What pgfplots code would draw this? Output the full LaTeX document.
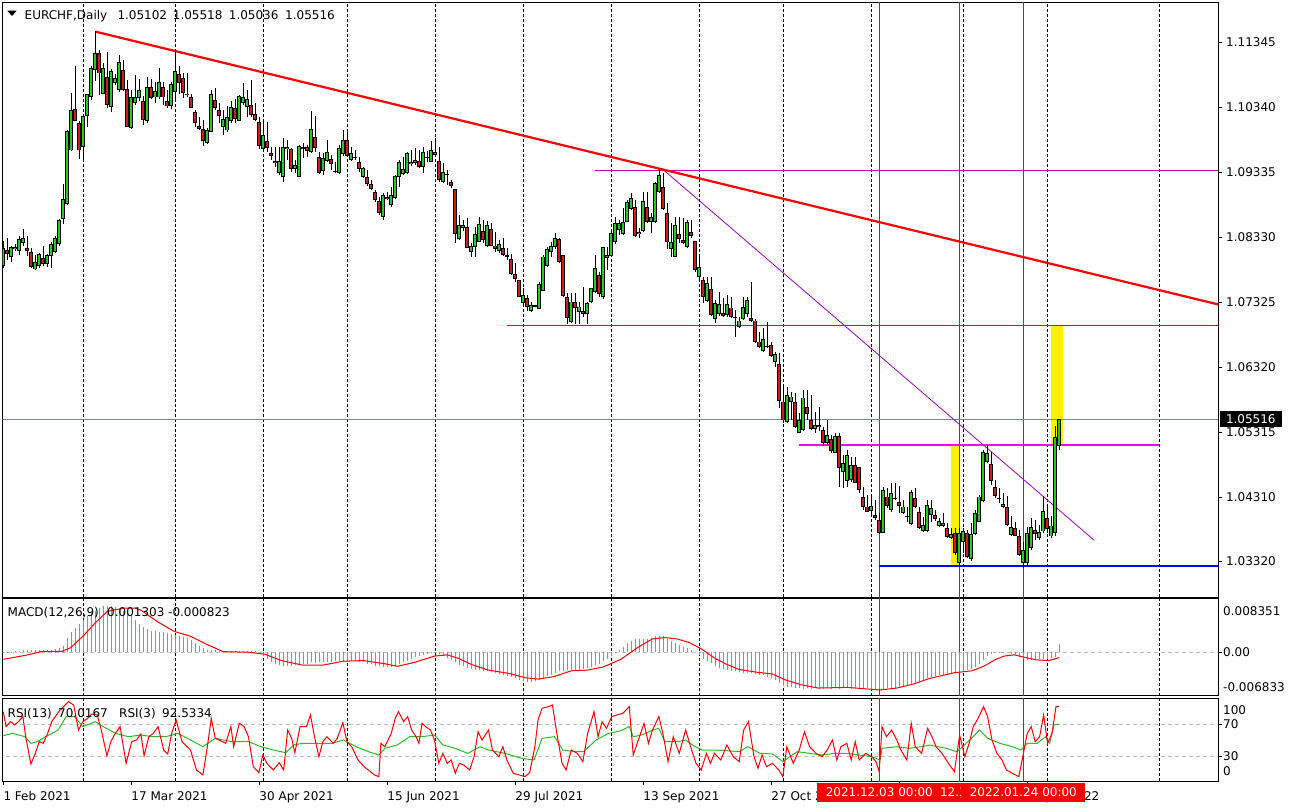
\documentclass[border=0pt]{standalone}
\usepackage{fontspec}
\setmainfont{DejaVu Sans}
\usepackage{pgfplots}
\usepackage{pgfplotstable}
\pgfplotsset{compat=1.18}
\definecolor{bull}{RGB}{40,200,40}
\definecolor{bear}{RGB}{205,30,30}
\definecolor{histc}{RGB}{60,205,60}
\definecolor{rsig}{RGB}{40,190,40}
\definecolor{mag}{RGB}{255,0,255}
\definecolor{magthin}{RGB}{204,0,153}
\definecolor{purp}{RGB}{153,0,204}
\definecolor{curgray}{RGB}{119,136,153}
\definecolor{lvl}{RGB}{192,192,192}
\newcommand\fs{\fontsize{12}{14}\selectfont}

\pgfplotstableread{
k O H L C
0 1.0789 1.0827 1.0785 1.0816
1 1.0813 1.0831 1.0798 1.0807
2 1.0802 1.0820 1.0794 1.0818
3 1.0815 1.0823 1.0811 1.0818
4 1.0811 1.0835 1.0806 1.0830
5 1.0824 1.0845 1.0819 1.0831
6 1.0816 1.0834 1.0804 1.0811
7 1.0810 1.0816 1.0785 1.0787
8 1.0783 1.0806 1.0782 1.0794
9 1.0788 1.0808 1.0785 1.0807
10 1.0800 1.0819 1.0789 1.0791
11 1.0791 1.0807 1.0787 1.0805
12 1.0804 1.0825 1.0785 1.0823
13 1.0810 1.0835 1.0808 1.0831
14 1.0822 1.0861 1.0820 1.0859
15 1.0861 1.0915 1.0853 1.0892
16 1.0884 1.0999 1.0883 1.0997
17 1.0967 1.1056 1.0966 1.1030
18 1.1031 1.1098 1.1012 1.1013
19 1.1009 1.1012 1.0954 1.0967
20 1.0973 1.1022 1.0952 1.1020
21 1.1021 1.1055 1.1003 1.1054
22 1.1050 1.1098 1.1045 1.1094
23 1.1091 1.1152 1.1075 1.1117
24 1.1117 1.1123 1.1053 1.1086
25 1.1055 1.1102 1.1054 1.1094
26 1.1080 1.1119 1.1032 1.1038
27 1.1034 1.1093 1.1027 1.1090
28 1.1072 1.1085 1.1068 1.1079
29 1.1061 1.1114 1.1058 1.1104
30 1.1092 1.1107 1.1059 1.1061
31 1.1062 1.1076 1.1004 1.1004
32 1.1002 1.1061 1.1000 1.1050
33 1.1041 1.1084 1.1037 1.1049
34 1.1048 1.1077 1.1044 1.1061
35 1.1044 1.1051 1.1006 1.1014
36 1.1013 1.1081 1.1009 1.1065
37 1.1065 1.1077 1.1046 1.1048
38 1.1049 1.1073 1.1040 1.1059
39 1.1049 1.1094 1.1046 1.1073
40 1.1065 1.1073 1.1037 1.1049
41 1.1044 1.1060 1.1033 1.1035
42 1.1036 1.1073 1.1031 1.1069
43 1.1057 1.1120 1.1042 1.1090
44 1.1085 1.1098 1.1055 1.1072
45 1.1079 1.1087 1.1048 1.1056
46 1.1055 1.1087 1.1050 1.1052
47 1.1049 1.1054 1.1032 1.1033
48 1.1026 1.1030 1.1004 1.1010
49 1.1005 1.1018 1.0999 1.1000
50 1.1000 1.1014 1.0974 1.0982
51 1.0979 1.1001 1.0977 1.0999
52 1.0996 1.1060 1.0995 1.1054
53 1.1045 1.1063 1.1030 1.1033
54 1.1030 1.1040 1.1009 1.1021
55 1.1004 1.1030 1.0991 1.1016
56 1.0998 1.1035 1.0996 1.1018
57 1.1013 1.1044 1.1009 1.1034
58 1.1032 1.1046 1.1009 1.1016
59 1.1013 1.1053 1.1013 1.1051
60 1.1040 1.1071 1.1037 1.1049
61 1.1034 1.1060 1.1019 1.1047
62 1.1037 1.1076 1.1019 1.1022
63 1.1023 1.1040 1.1012 1.1014
64 1.1011 1.1019 1.0970 1.0974
65 1.0970 1.1012 1.0968 1.0991
66 1.09817 1.10115 1.09652 1.09714
67 1.09626 1.09719 1.09523 1.09590
68 1.09508 1.09719 1.09410 1.09472
69 1.09327 1.09719 1.09291 1.09508
70 1.09255 1.09858 1.09188 1.09729
71 1.09688 1.09832 1.09523 1.09719
72 1.09688 1.09703 1.09343 1.09389
73 1.09379 1.09523 1.09317 1.09441
74 1.09265 1.09755 1.09255 1.09739
75 1.09698 1.09780 1.09549 1.09719
76 1.09719 1.09755 1.09575 1.09667
77 1.09652 1.10280 1.09636 1.09997
78 1.09873 1.10203 1.09652 1.09703
79 1.09575 1.09652 1.09307 1.09327
80 1.09358 1.09626 1.09291 1.09549
81 1.09513 1.09832 1.09497 1.09642
82 1.09533 1.09600 1.09369 1.09456
83 1.09353 1.09497 1.09327 1.09343
84 1.09317 1.09755 1.09307 1.09703
85 1.09611 1.09987 1.09585 1.09827
86 1.09827 1.09997 1.09564 1.09585
87 1.09523 1.09729 1.09513 1.09626
88 1.09564 1.09678 1.09523 1.09549
89 1.09487 1.09575 1.09343 1.09379
90 1.09255 1.09420 1.09240 1.09394
91 1.09265 1.09369 1.09121 1.09147
92 1.09147 1.09214 1.09060 1.09080
93 1.09023 1.09060 1.08880 1.08905
94 1.08890 1.08956 1.08674 1.08699
95 1.08648 1.09008 1.08596 1.08982
96 1.08956 1.09034 1.08905 1.08915
97 1.08823 1.09111 1.08802 1.08982
98 1.08931 1.09291 1.08915 1.09276
99 1.09255 1.09523 1.09111 1.09487
100 1.09302 1.09575 1.09291 1.09379
101 1.09317 1.09652 1.09307 1.09626
102 1.09456 1.09678 1.09430 1.09487
103 1.09472 1.09703 1.09446 1.09523
104 1.09508 1.09678 1.09394 1.09410
105 1.09420 1.09729 1.09327 1.09641
106 1.09554 1.09667 1.09497 1.09564
107 1.09497 1.09822 1.09487 1.09678
108 1.09605 1.09858 1.09575 1.09647
109 1.09508 1.09729 1.09188 1.09214
110 1.09188 1.09472 1.09173 1.09333
111 1.09286 1.09369 1.09137 1.09307
112 1.09178 1.09214 1.09085 1.09126
113 1.09075 1.09075 1.08236 1.08374
114 1.08297 1.08673 1.08287 1.08514
115 1.08478 1.08596 1.08426 1.08514
116 1.08483 1.08622 1.08158 1.08169
117 1.08107 1.08236 1.08030 1.08194
118 1.08184 1.08493 1.08030 1.08380
119 1.08262 1.08637 1.08251 1.08534
120 1.08426 1.08596 1.08236 1.08287
121 1.08200 1.08586 1.08184 1.08514
122 1.08457 1.08545 1.08194 1.08200
123 1.08200 1.08405 1.08096 1.08148
124 1.08117 1.08287 1.08081 1.08225
125 1.08164 1.08313 1.08045 1.08060
126 1.08055 1.08158 1.07978 1.08030
127 1.07988 1.08071 1.07747 1.07757
128 1.07762 1.07927 1.07633 1.07690
129 1.07669 1.07669 1.07401 1.07411
130 1.07319 1.07540 1.07278 1.07432
131 1.07386 1.07437 1.07195 1.07247
132 1.07190 1.07334 1.07180 1.07283
133 1.07257 1.07283 1.07247 1.07267
134 1.07226 1.07633 1.07216 1.07607
135 1.07504 1.08055 1.07499 1.08030
136 1.07891 1.08184 1.07875 1.08143
137 1.08096 1.08262 1.08030 1.08194
138 1.08184 1.08390 1.08143 1.08313
139 1.08297 1.08313 1.07927 1.07953
140 1.08055 1.08055 1.07411 1.07427
141 1.07401 1.07463 1.06989 1.07087
142 1.07025 1.07463 1.07000 1.07334
143 1.07324 1.07463 1.06989 1.07242
144 1.07180 1.07334 1.06989 1.07257
145 1.07190 1.07566 1.07102 1.07138
146 1.07138 1.07334 1.06989 1.07308
147 1.07324 1.07551 1.07308 1.07540
148 1.07489 1.08055 1.07463 1.07850
149 1.07747 1.07798 1.07411 1.07447
150 1.07401 1.08184 1.07370 1.08174
151 1.08014 1.08184 1.07824 1.08055
152 1.08045 1.08442 1.08030 1.08390
153 1.08262 1.08637 1.08225 1.08545
154 1.08442 1.08596 1.08364 1.08545
155 1.08380 1.08776 1.08364 1.08570
156 1.08570 1.08905 1.08565 1.08879
157 1.08761 1.09008 1.08750 1.08931
158 1.08792 1.08905 1.08339 1.08354
159 1.08379 1.08466 1.08312 1.08415
160 1.08425 1.09033 1.08415 1.08894
161 1.08801 1.09033 1.08544 1.08569
162 1.08569 1.08698 1.08389 1.08647
163 1.08569 1.09187 1.08554 1.09162
164 1.09022 1.09367 1.09007 1.09290
165 1.09100 1.09316 1.08750 1.08765
166 1.08698 1.08853 1.08142 1.08260
167 1.08147 1.08544 1.08029 1.08260
168 1.08029 1.08647 1.08018 1.08518
169 1.08379 1.08647 1.08235 1.08301
170 1.08286 1.08621 1.08224 1.08245
171 1.08173 1.08595 1.08157 1.08559
172 1.08415 1.08595 1.08312 1.08348
173 1.08271 1.08271 1.07797 1.07822
174 1.07720 1.08054 1.07668 1.07864
175 1.07668 1.07720 1.07308 1.07400
176 1.07349 1.07720 1.07334 1.07627
177 1.07524 1.07720 1.07117 1.07127
178 1.07060 1.07359 1.06999 1.07308
179 1.07138 1.07488 1.07117 1.07297
180 1.07153 1.07385 1.07102 1.07117
181 1.07127 1.07436 1.07102 1.07297
182 1.07241 1.07411 1.07076 1.07102
183 1.07102 1.07205 1.06792 1.07076
184 1.06947 1.07102 1.06921 1.07040
185 1.07060 1.07400 1.07050 1.07246
186 1.07138 1.07411 1.07102 1.07359
187 1.07076 1.07642 1.07024 1.07040
188 1.07040 1.07060 1.06690 1.06715
189 1.06715 1.06870 1.06612 1.06638
190 1.06576 1.06921 1.06561 1.06756
191 1.06648 1.07014 1.06612 1.06628
192 1.06664 1.06715 1.06484 1.06499
193 1.06406 1.06561 1.06329 1.06525
194 1.06370 1.06535 1.05685 1.05804
195 1.05788 1.06020 1.05454 1.05495
196 1.05469 1.06020 1.05454 1.05891
197 1.05788 1.05943 1.05505 1.05865
198 1.05778 1.05917 1.05377 1.05402
199 1.05309 1.05608 1.05299 1.05505
200 1.05351 1.05969 1.05340 1.05850
201 1.05696 1.05969 1.05505 1.05598
202 1.05505 1.05891 1.05351 1.05361
203 1.05361 1.05634 1.05299 1.05428
204 1.05428 1.05711 1.05340 1.05387
205 1.05351 1.05402 1.05093 1.05145
206 1.05145 1.05505 1.05109 1.05273
207 1.05210 1.05271 1.04998 1.05029
208 1.04998 1.05297 1.04988 1.05261
209 1.05261 1.05297 1.04463 1.04756
210 1.04705 1.04962 1.04447 1.04834
211 1.04566 1.05040 1.04473 1.04962
212 1.04576 1.04937 1.04551 1.04808
213 1.04808 1.04926 1.04525 1.04535
214 1.04772 1.04782 1.04370 1.04422
215 1.04308 1.04473 1.04113 1.04164
216 1.04164 1.04344 1.04077 1.04087
217 1.04097 1.04344 1.04035 1.04175
218 1.04035 1.04267 1.03958 1.03984
219 1.03958 1.04061 1.03742 1.03752
220 1.03762 1.04473 1.03752 1.04422
221 1.04319 1.04447 1.04138 1.04175
222 1.04113 1.04525 1.04087 1.04370
223 1.04293 1.04525 1.04267 1.04277
224 1.04231 1.04483 1.04061 1.04180
225 1.04061 1.04267 1.04051 1.04164
226 1.04020 1.04164 1.03932 1.04010
227 1.03891 1.04422 1.03881 1.04385
228 1.04293 1.04447 1.04138 1.04154
229 1.04077 1.04164 1.03819 1.03829
230 1.03788 1.04010 1.03778 1.03881
231 1.03788 1.04267 1.03778 1.04185
232 1.04035 1.04267 1.03932 1.04138
233 1.04035 1.04113 1.03948 1.03968
234 1.03865 1.03984 1.03855 1.03943
235 1.03865 1.04061 1.03855 1.03907
236 1.03839 1.03907 1.03675 1.03701
237 1.03685 1.03829 1.03659 1.03737
238 1.03752 1.03829 1.03417 1.03443
239 1.03289 1.03829 1.03263 1.03752
240 1.03623 1.03829 1.03443 1.03788
241 1.03752 1.03804 1.03366 1.03392
242 1.03350 1.03907 1.03330 1.03737
243 1.03737 1.04113 1.03726 1.04061
244 1.03932 1.04344 1.03922 1.04319
245 1.04252 1.05040 1.04241 1.05014
246 1.04859 1.05117 1.04834 1.04988
247 1.04819 1.05015 1.04500 1.04567
248 1.04464 1.04577 1.04294 1.04335
249 1.04294 1.04448 1.04227 1.04278
250 1.04155 1.04371 1.04139 1.04206
251 1.04155 1.04320 1.03866 1.03882
252 1.03727 1.04011 1.03712 1.03846
253 1.03830 1.03933 1.03702 1.03712
254 1.03702 1.03805 1.03403 1.03418
255 1.03290 1.03624 1.03212 1.03496
256 1.03290 1.03856 1.03264 1.03753
257 1.03521 1.03985 1.03496 1.03846
258 1.03805 1.03959 1.03650 1.03743
259 1.03676 1.03882 1.03650 1.03768
260 1.03779 1.04320 1.03753 1.04088
261 1.03985 1.04165 1.03753 1.03815
262 1.03702 1.04011 1.03676 1.03871
263 1.03753 1.05411 1.03712 1.05236
264 1.05102 1.05518 1.05036 1.05516
}\candles

\pgfplotstableread{
k v
0 0.0001
1 0.0001
2 0.0001
3 0.0002
4 0.0002
5 0.0003
6 0.0004
7 0.0004
8 0.0004
9 0.0004
10 0.0004
11 0.0004
12 0.0004
13 0.0005
14 0.0006
15 0.0010
16 0.0022
17 0.0032
18 0.0038
19 0.0045
20 0.0051
21 0.0056
22 0.0061
23 0.0065
24 0.0069
25 0.0072
26 0.0073
27 0.0073
28 0.0071
29 0.0068
30 0.0065
31 0.0061
32 0.0056
33 0.0050
34 0.0045
35 0.0040
36 0.0036
37 0.0034
38 0.0033
39 0.0032
40 0.0031
41 0.0030
42 0.0029
43 0.0027
44 0.0026
45 0.0024
46 0.0022
47 0.0019
48 0.0015
49 0.0010
50 0.0006
51 0.0003
52 0.0003
53 0.0003
54 0.0002
55 0.0002
56 0.0002
57 0.0002
58 0.0002
59 0.0002
60 0.0002
61 0.0002
62 0.0002
63 0.0002
64 0.0000
65 -0.0006
66 -0.0010
67 -0.0015
68 -0.0018
69 -0.0020
70 -0.0021
71 -0.0021
72 -0.0021
73 -0.0020
74 -0.0020
75 -0.0019
76 -0.0018
77 -0.0016
78 -0.0017
79 -0.0016
80 -0.0015
81 -0.0015
82 -0.0015
83 -0.0014
84 -0.0013
85 -0.0013
86 -0.0013
87 -0.0014
88 -0.0014
89 -0.0015
90 -0.0016
91 -0.0018
92 -0.0019
93 -0.0021
94 -0.0022
95 -0.0023
96 -0.0023
97 -0.0023
98 -0.0021
99 -0.0019
100 -0.0016
101 -0.0013
102 -0.0010
103 -0.0008
104 -0.0006
105 -0.0004
106 -0.0002
107 -0.0001
108 -0.0001
109 -0.0003
110 -0.0006
111 -0.0009
112 -0.0012
113 -0.0016
114 -0.0020
115 -0.0022
116 -0.0025
117 -0.0026
118 -0.0027
119 -0.0028
120 -0.0029
121 -0.0030
122 -0.0031
123 -0.0032
124 -0.0034
125 -0.0035
126 -0.0037
127 -0.0039
128 -0.0041
129 -0.0043
130 -0.0045
131 -0.0046
132 -0.0046
133 -0.0045
134 -0.0043
135 -0.0040
136 -0.0037
137 -0.0035
138 -0.0032
139 -0.0030
140 -0.0029
141 -0.0028
142 -0.0028
143 -0.0027
144 -0.0027
145 -0.0026
146 -0.0025
147 -0.0023
148 -0.0020
149 -0.0018
150 -0.0014
151 -0.0010
152 -0.0006
153 -0.0001
154 0.0004
155 0.0009
156 0.0014
157 0.0018
158 0.0020
159 0.0020
160 0.0020
161 0.0021
162 0.0023
163 0.0025
164 0.0026
165 0.0025
166 0.0021
167 0.0017
168 0.0015
169 0.0012
170 0.0009
171 0.0007
172 0.0004
173 0.0000
174 -0.0005
175 -0.0010
176 -0.0013
177 -0.0017
178 -0.0021
179 -0.0024
180 -0.0026
181 -0.0028
182 -0.0029
183 -0.0030
184 -0.0031
185 -0.0032
186 -0.0032
187 -0.0033
188 -0.0034
189 -0.0035
190 -0.0036
191 -0.0038
192 -0.0040
193 -0.0043
194 -0.0048
195 -0.0053
196 -0.0054
197 -0.0055
198 -0.0056
199 -0.0056
200 -0.0057
201 -0.0056
202 -0.0057
203 -0.0056
204 -0.0057
205 -0.0057
206 -0.0056
207 -0.0057
208 -0.0056
209 -0.0057
210 -0.0056
211 -0.0056
212 -0.0057
213 -0.0056
214 -0.0057
215 -0.0057
216 -0.0056
217 -0.0057
218 -0.0057
219 -0.0058
220 -0.0057
221 -0.0056
222 -0.0057
223 -0.0056
224 -0.0055
225 -0.0054
226 -0.0052
227 -0.0050
228 -0.0048
229 -0.0046
230 -0.0043
231 -0.0041
232 -0.0039
233 -0.0037
234 -0.0036
235 -0.0035
236 -0.0034
237 -0.0033
238 -0.0032
239 -0.0032
240 -0.0030
241 -0.0028
242 -0.0026
243 -0.0023
244 -0.0019
245 -0.0012
246 -0.0006
247 -0.0002
248 0.0000
249 0.0001
250 0.0001
251 0.0000
252 -0.0003
253 -0.0005
254 -0.0008
255 -0.0011
256 -0.0012
257 -0.0012
258 -0.0011
259 -0.0011
260 -0.0010
261 -0.0010
262 -0.0009
263 -0.0008
264 0.0013
}\macdhist

\pgfplotstableread{
k v
0 -0.0011
5.4 -0.0005
9.5 0.0001
14.7 0.00015
16.8 0.0007
19.9 0.0025
23 0.0046
26 0.0064
30 0.0069
33 0.0069
34.4 0.0066
38.5 0.0048
42.6 0.0033
46.8 0.0025
51 0.0012
55 0.0001
61.3 0.0000
65.4 -0.0003
69.5 -0.0013
74.7 -0.0020
80 -0.0020
85 -0.0014
90 -0.0013
95.4 -0.0018
98.5 -0.0022
102.7 -0.0016
107.8 -0.0006
111 -0.0004
114 -0.0010
117 -0.0019
121.3 -0.0028
126.4 -0.0033
130.6 -0.0040
133.7 -0.0042
137.8 -0.0038
142 -0.0029
146 -0.0028
150 -0.0023
154.4 -0.0011
158.5 0.0007
162.3 0.0021
165.4 0.0023
168.4 0.0021
171.6 0.0015
174.6 0.0005
177.8 -0.0009
180.9 -0.0019
184 -0.0027
188.1 -0.0031
192.3 -0.0034
195.4 -0.0043
199.6 -0.0051
203.7 -0.0056
211 -0.0055
215.1 -0.0057
219.2 -0.0059
223.4 -0.0056
227.4 -0.0050
231.6 -0.0041
237.8 -0.0032
242.2 -0.0029
245.1 -0.0022
248.2 -0.0011
250.2 -0.0006
252.8 -0.0004
255.4 -0.0008
258.4 -0.0012
261.4 -0.0013
264 -0.000823
}\macdsig

\pgfplotstableread{
k v
0 86.0
0.7 67.1
1.8 73.4
2.8 69.2
3.8 73.4
4.9 79.7
5.6 54.4
6.9 19.9
8.0 33.4
9.0 48.1
10.0 46.0
11.1 58.6
12.1 73.4
14.2 88.1
16.3 98.6
17.6 94.4
18.8 62.8
19.9 73.4
21.1 77.6
22.1 83.0
23.5 81.8
24.5 62.8
25.9 30.5
26.9 48.1
28.0 58.6
29.2 67.1
30.7 20.8
32.1 48.1
33.3 50.2
34.4 57.8
35.2 30.5
36.4 54.4
37.5 58.6
38.7 67.1
40.1 37.6
41.1 32.6
42.1 58.6
43.2 75.5
44.7 48.1
46.8 37.6
48.3 12.4
49.9 6.1
50.9 37.6
52.0 77.6
53.0 52.3
54.0 50.2
55.6 46.0
56.9 67.1
57.6 41.8
59.0 71.3
60.2 67.1
61.3 54.4
62.5 16.6
63.9 9.0
64.9 31.3
65.9 20.8
67.5 12.4
69.0 21.6
70.1 12.4
71.1 62.8
72.1 52.3
72.9 34.2
74.2 67.1
75.8 67.1
76.8 81.8
77.8 54.4
78.9 29.2
79.9 48.1
80.9 54.4
82.5 46.0
83.5 52.3
84.9 72.1
85.9 48.1
87.1 41.8
88.7 25.0
90.2 16.6
91.8 10.3
92.8 6.1
93.9 4.0
94.4 46.0
95.4 41.8
97.0 58.6
98.0 77.6
98.8 86.0
100.1 73.4
101.1 79.7
102.1 62.8
103.2 54.4
103.9 46.0
104.7 71.3
105.8 66.2
106.8 62.8
107.8 50.2
108.9 20.8
109.9 33.4
111.0 20.8
112.0 25.0
113.0 8.2
114.0 20.8
115.1 18.7
116.6 12.4
117.7 29.2
118.7 60.7
119.7 50.2
121.3 62.8
122.3 37.6
123.9 29.2
124.9 41.8
125.9 25.0
127.5 8.2
129.0 6.1
130.4 4.0
131.6 9.0
132.9 41.8
133.7 75.5
134.7 90.2
136.3 92.3
137.3 94.4
138.4 58.6
139.7 20.8
140.7 12.4
142.0 37.6
143.5 33.4
144.9 22.9
146.1 58.6
147.7 86.0
148.7 54.4
149.7 73.4
150.8 64.9
152.1 79.7
153.4 81.8
154.9 83.9
156.5 92.3
157.5 31.3
159.2 56.5
160.2 71.3
161.3 46.0
162.3 62.8
163.9 79.7
164.9 58.6
166.2 22.9
167.5 54.4
169.0 33.4
170.6 62.8
172.1 37.6
173.2 20.8
174.5 12.4
175.8 33.4
176.8 20.8
177.8 33.4
179.4 25.0
180.9 43.9
182.5 29.2
184.0 22.9
185.1 62.8
186.3 73.4
187.7 29.2
188.7 14.5
189.7 31.3
190.8 16.6
192.3 20.8
193.9 12.4
194.9 4.0
195.9 41.8
197.5 20.8
199.0 37.6
200.3 60.7
201.6 41.8
203.2 33.4
204.7 29.2
206.0 37.6
207.3 50.2
208.4 25.0
209.4 41.8
210.9 46.0
212.0 25.0
213.0 48.1
214.0 25.0
215.6 33.4
217.1 29.2
218.2 22.9
219.0 10.3
219.7 67.1
220.8 54.4
222.1 62.8
223.4 50.2
224.4 37.6
225.9 25.0
227.0 71.3
228.0 41.8
229.6 33.4
231.1 64.9
232.2 54.4
233.2 41.8
234.7 33.4
236.3 20.8
237.8 10.3
239.1 56.5
240.4 29.2
241.5 46.0
242.5 67.1
243.5 75.5
245.1 92.3
246.1 79.7
247.2 50.2
248.4 33.4
249.7 25.0
250.8 12.4
252.3 8.2
253.9 4.0
254.9 29.2
256.0 58.6
257.0 67.1
258.0 48.1
259.1 54.4
260.1 81.8
261.1 46.0
262.2 58.6
263.2 92.3
264 92.53
}\rsithree

\pgfplotstableread{
k v
0 55.7
2.3 58.6
5.4 54.4
6.9 46.0
8.5 48.1
10.6 54.4
13.7 62.8
15.7 79.7
17.8 79.7
19.9 67.1
23.0 73.4
25.0 67.1
28.1 58.6
31.3 54.4
34.4 56.5
37.5 54.4
40.6 54.4
43.7 58.6
46.8 50.2
49.9 41.8
53.0 52.3
57.1 48.1
61.3 48.1
64.4 41.8
67.5 37.6
70.6 34.2
72.6 43.9
74.7 46.0
77.8 46.0
82.0 46.0
85.1 50.2
88.2 41.8
91.3 35.5
93.9 31.3
95.4 39.7
98.5 43.9
101.6 54.4
104.7 54.4
107.8 56.5
109.9 43.9
113.0 39.7
116.1 33.4
119.2 41.8
121.3 37.6
125.4 33.4
129.6 27.1
132.7 25.0
134.7 52.3
137.8 54.4
139.9 37.6
143.0 35.5
145.1 35.5
148.2 50.2
151.3 58.6
154.4 62.0
156.5 67.1
157.5 54.4
159.6 56.5
162.3 62.8
163.9 64.9
165.4 48.1
168.5 48.1
170.6 50.2
172.7 42.7
174.7 37.6
177.8 37.6
180.9 36.8
184.0 35.5
186.1 41.8
189.2 33.4
192.3 32.6
194.9 22.9
198.5 35.5
201.6 33.4
204.7 31.3
207.8 33.4
210.9 33.4
214.0 31.3
217.1 29.2
219.2 25.0
219.7 39.7
223.4 41.8
226.5 39.7
229.6 41.8
231.6 43.9
233.7 41.8
235.8 39.7
238.4 35.5
239.9 41.8
242.0 52.3
244.1 62.8
246.1 52.3
249.2 46.0
252.3 41.8
254.4 37.6
256.0 46.0
258.5 46.0
260.6 54.4
261.6 46.0
262.7 69.2
264 70.02
}\rsithirteen

\pgfplotsset{
  mt/.style={
    scale only axis, anchor=south west, width=1215.3pt,
    xmin=-0.15, xmax=303.7,
    axis line style={black, line width=1pt},
    xtick=\empty,
    extra x ticks={20,43,65,86,108,130,152,174,195,217,240,261,289},
    extra x tick style={grid=major, major tick length=0pt, xticklabel={}},
    grid style={black, line width=0.9pt, dash pattern=on 3pt off 2pt},
    ytick pos=right, yticklabel pos=right,
    tick align=outside, major tick length=4pt,
    tick style={black, line width=1pt},
    yticklabel style={font=\fs, anchor=west, inner sep=0pt},
    scaled y ticks=false, scaled x ticks=false,
  },
}

\begin{document}
\begin{tikzpicture}[x=1pt,y=1pt]
\useasboundingbox (0,0) rectangle (1290,807);

% ---------------- main price panel
\begin{axis}[mt, at={(2.7pt,210pt)}, height=594pt, ymin=1.02766, ymax=1.11950,
  ytick={1.03320,1.04310,1.05315,1.06320,1.07325,1.08330,1.09335,1.10340,1.11345},
  yticklabels={1.03320,1.04310,1.05315,1.06320,1.07325,1.08330,1.09335,1.10340,1.11345},
  yticklabel style={xshift=4pt}]
 \addplot[fill=yellow, draw=none] coordinates {(236.9,1.03245) (239,1.03245) (239,1.05116) (236.9,1.05116) (236.9,1.03245)};
 \addplot[fill=yellow, draw=none] coordinates {(261.9,1.05116) (264.9,1.05116) (264.9,1.06971) (261.9,1.06971) (261.9,1.05116)};
 \addplot[red, line width=1pt] coordinates {(219,1.0) (219,1.2)};
 \addplot[red, line width=1pt] coordinates {(239,1.0) (239,1.2)};
 \addplot[red, line width=1pt] coordinates {(255,1.0) (255,1.2)};
 \addplot[curgray, line width=1pt] coordinates {(-1,1.05516) (310,1.05516)};
 \addplot[red, line width=1pt] coordinates {(125.9,1.06971) (310,1.06971)};
 \addplot[magthin, line width=1pt] coordinates {(147.9,1.09363) (310,1.09363)};
 \addplot[mag, line width=2pt] coordinates {(198.9,1.05116) (288.9,1.05116)};
 \addplot[blue, line width=2pt] coordinates {(219,1.03250) (310,1.03250)};
 \addplot[purp, line width=0.8pt] coordinates {(164.9,1.09378) (272.75,1.03643)};
 \addplot[red, line width=2.2pt] coordinates {(23.1,1.11506) (303.7,1.0729)};
 % candles: wick, black body outline, coloured inner body (vertical segments)
 \addplot[black, line width=1pt, mark=none,
   quiver={u=0, v=\thisrow{H}-\thisrow{L}}] table[x=k, y=L] {\candles};
 \addplot[black, line width=3.6pt, mark=none,
   quiver={u=0, v={max(abs(\thisrow{C}-\thisrow{O}),0.00016)}}]
   table[x=k, y expr={min(\thisrow{O},\thisrow{C})}] {\candles};
 \addplot[bull, line width=1.8pt, mark=none,
   quiver={u=0, v={max(\thisrow{C}-\thisrow{O}-0.00028,0)}}]
   table[x=k, y expr={\thisrow{O}+0.00014}] {\candles};
 \addplot[bear, line width=1.8pt, mark=none,
   quiver={u=0, v={max(\thisrow{O}-\thisrow{C}-0.00028,0)}}]
   table[x=k, y expr={\thisrow{C}+0.00014}] {\candles};
\end{axis}

% ---------------- MACD panel
\begin{axis}[mt, at={(2.7pt,111pt)}, height=97pt, ymin=-0.006833, ymax=0.008351,
  ytick={0}, yticklabels={0.00}, yticklabel style={xshift=1pt}]
 \addplot[lvl, line width=1pt, dash pattern=on 4pt off 3pt] coordinates {(-1,0) (310,0)};
 \addplot[red, line width=1pt] coordinates {(219,-1) (219,1)};
 \addplot[red, line width=1pt] coordinates {(239,-1) (239,1)};
 \addplot[red, line width=1pt] coordinates {(255,-1) (255,1)};
 \addplot[ycomb, histc, line width=1pt] table[x=k, y=v] {\macdhist};
 \addplot[red, line width=1pt] table[x=k, y=v] {\macdsig};
\end{axis}

% ---------------- RSI panel
\begin{axis}[mt, at={(2.7pt,26pt)}, height=83pt, ymin=-1.5, ymax=103.2,
  ytick={30,70}, yticklabels={30,70}, yticklabel style={xshift=1pt},
  xtick={0,32,64,96,128,160,192,224,256},
  xticklabels={1 Feb 2021,17 Mar 2021,30 Apr 2021,15 Jun 2021,29 Jul 2021,13 Sep 2021,27 Oct 2021,10 Dec 2021,25 Jan 2022},
  xtick pos=bottom,
  xticklabel style={font=\fs, anchor=base west, inner sep=0pt, yshift=-15.7pt}]
 \addplot[lvl, line width=1pt, dash pattern=on 4pt off 3pt] coordinates {(-1,70) (310,70)};
 \addplot[lvl, line width=1pt, dash pattern=on 4pt off 3pt] coordinates {(-1,30) (310,30)};
 \addplot[red, line width=1pt] coordinates {(219,-10) (219,110)};
 \addplot[red, line width=1pt] coordinates {(239,-10) (239,110)};
 \addplot[red, line width=1pt] coordinates {(255,-10) (255,110)};
 \addplot[rsig, line width=1pt] table[x=k, y=v] {\rsithirteen};
 \addplot[red, line width=1pt] table[x=k, y=v] {\rsithree};
\end{axis}

% ---------------- texts and labels
\fill (7.3,796.3) -- (16.7,796.3) -- (12,791) -- cycle;
\begin{scope}[every node/.style={font=\fs, inner sep=0pt, anchor=base west}]
\node at (24.5,787.7) {EURCHF,Daily};
\node at (117.3,787.7) {1.05102};
\node at (172.7,787.7) {1.05518};
\node at (228.7,787.7) {1.05036};
\node at (285,787.7) {1.05516};
\node at (7.5,191) {MACD(12,26,9)};
\node at (107,191) {0.001303};
\node at (168,191) {-0.000823};
\node at (7.5,89.3) {RSI(13)};
\node at (58,89.3) {70.0167};
\node at (119,89.3) {RSI(3)};
\node at (162,89.3) {92.5334};
\end{scope}
\begin{scope}[every node/.style={font=\fs, inner sep=0pt, anchor=west}]
\node at (1223,196.2) {0.008351};
\node at (1223,119.5) {-0.006833};
\node at (1223,96.7) {100};
\node at (1223,36.2) {0};
\end{scope}
% current price tag
\node[fill=black, text=white, font=\fs, inner xsep=6.5pt, inner ysep=0pt, minimum height=16pt, anchor=west] at (1219.3,388) {1.05516};
% vertical line date tags
\begin{scope}[every node/.style={fill=red, text=white, font=\fs, inner xsep=8.5pt, inner ysep=0pt, minimum height=18.4pt, anchor=center}]
\node at (959.3,14.5) {2021.12.31 00:00};
\node at (879.3,14.5) {2021.12.03 00:00};
\node at (1023.3,14.5) {2022.01.24 00:00};
\end{scope}
\end{tikzpicture}
\end{document}
